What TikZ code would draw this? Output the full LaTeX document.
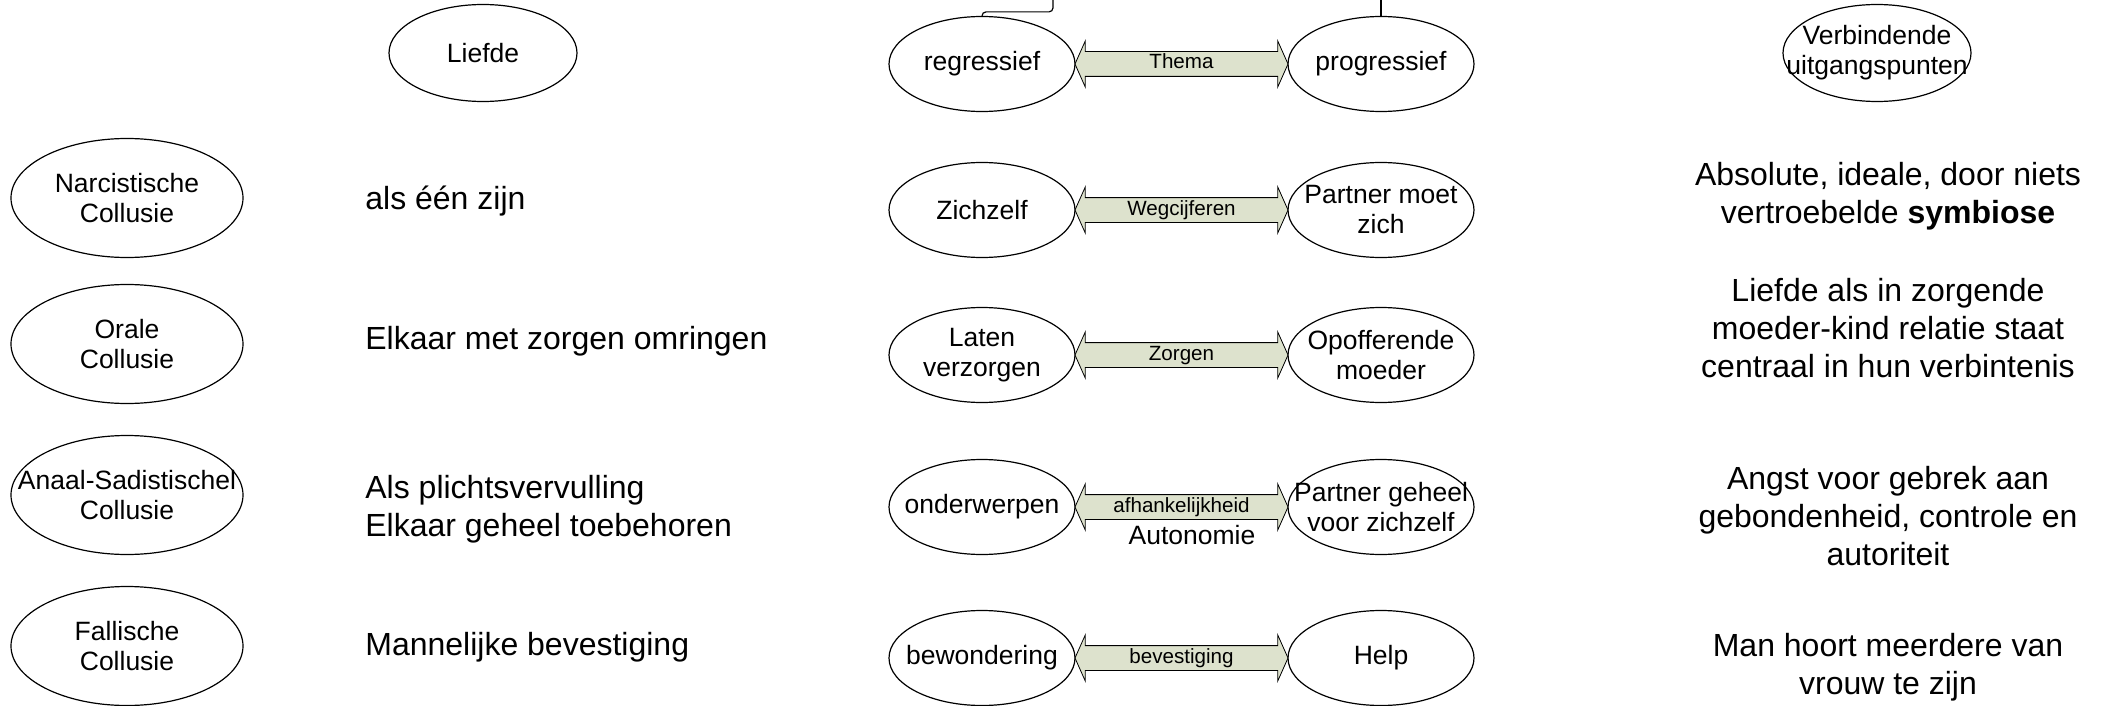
\documentclass[tikz,border=0pt]{standalone}
\usepackage{fontspec}
\setmainfont{Liberation Sans}
\usetikzlibrary{shapes.geometric,shapes.arrows,calc}

\definecolor{pijlgroen}{RGB}{221,226,205}

\tikzset{
  kop/.style={ellipse, draw, line width=0.6pt, inner sep=0pt, minimum width=94pt, minimum height=48.5pt},
  kol/.style={ellipse, draw, line width=0.6pt, inner sep=0pt, minimum width=116pt, minimum height=59.5pt},
  pool/.style={ellipse, draw, line width=0.6pt, inner sep=0pt, minimum width=93pt, minimum height=47.5pt},
  otekst/.style={align=center, inner sep=0pt, font=\fontsize{13.25pt}{15pt}\selectfont},
  tekst/.style={align=center, inner sep=0pt, font=\fontsize{16pt}{19pt}\selectfont},
  ltekst/.style={tekst, align=left, anchor=west},
  pijl/.style={double arrow, draw, line width=0.4pt, fill=pijlgroen,
    minimum height=106.5pt, minimum width=22.5pt, double arrow head extend=5.25pt,
    double arrow tip angle=132, inner xsep=0pt, inner ysep=1pt,
    text height=7.5pt, text depth=2.5pt, font=\fontsize{10.3pt}{12pt}\selectfont}
}

\begin{document}
\begin{tikzpicture}[x=0.5pt,y=-0.5pt]

  \useasboundingbox (0,0) rectangle (2104,706);

  % kopregel
  \node[kop] (liefde) at (483,53) {};
  \node[otekst] (liefde-t) at (liefde) {Liefde};
  \node[pool] (reg) at (982,64) {};
  \node[otekst] (reg-t) at (reg) {regressief};
  \node[pool] (prog) at (1381,64) {};
  \node[otekst] (prog-t) at (prog) {progressief};
  \node[kop] (verb) at (1877,53) {};
  \node[otekst] (verb-t) at (verb) {Verbindende\\uitgangspunten};

  \coordinate (topL) at (1053,0);
  \coordinate (topR) at (1381,0);
  \draw[line width=0.6pt, rounded corners=2pt] (reg.north) -- ++(0,-4) -| (topL);
  \draw[line width=0.6pt] (prog.north) -- (topR);

  \node[pijl] (thema) at ($(reg.east)!0.5!(prog.west)$) {Thema};

  % collusies
  \node[kol] (narc) at (127,198) {};
  \node[otekst] (narc-t) at (narc) {Narcistische\\Collusie};
  \node[kol] (oraal) at (127,344) {};
  \node[otekst] (oraal-t) at (oraal) {Orale\\Collusie};
  \node[kol] (anaal) at (127,495) {};
  \node[otekst] (anaal-t) at (anaal) {Anaal-Sadistischel\\Collusie};
  \node[kol] (fal) at (127,646) {};
  \node[otekst] (fal-t) at (fal) {Fallische\\Collusie};

  \node[ltekst] (liefde1) at (365,201) {als één zijn};
  \node[ltekst] (liefde2) at (365,341) {Elkaar met zorgen omringen};
  \node[ltekst] (liefde3) at (365,509) {Als plichtsvervulling\\Elkaar geheel toebehoren};
  \node[ltekst] (liefde4) at (365,647) {Mannelijke bevestiging};

  % polen
  \node[pool] (zelf) at (982,210) {};
  \node[otekst] (zelf-t) at (zelf) {Zichzelf};
  \node[pool] (moet) at (1381,210) {};
  \node[otekst] (moet-t) at (moet) {Partner moet\\zich};
  \node[pijl] (weg) at ($(zelf.east)!0.5!(moet.west)$) {Wegcijferen};

  \node[pool] (laten) at (982,355) {};
  \node[otekst] (laten-t) at (laten) {Laten\\verzorgen};
  \node[pool] (moeder) at (1381,355) {};
  \node[otekst] (moeder-t) at (moeder) {Opofferende\\moeder};
  \node[pijl] (zorg) at ($(laten.east)!0.5!(moeder.west)$) {Zorgen};

  \node[pool] (onder) at (982,507) {};
  \node[otekst] (onder-t) at (onder) {onderwerpen};
  \node[pool] (geheel) at (1381,507) {};
  \node[otekst] (geheel-t) at (geheel) {Partner geheel\\voor zichzelf};
  \node[pijl] (afh) at ($(onder.east)!0.5!(geheel.west)$) {afhankelijkheid};
  \node[otekst] (auto) at (1192,535) {Autonomie};

  \node[pool] (bew) at (982,658) {};
  \node[otekst] (bew-t) at (bew) {bewondering};
  \node[pool] (help) at (1381,658) {};
  \node[otekst] (help-t) at (help) {Help};
  \node[pijl] (bev) at ($(bew.east)!0.5!(help.west)$) {bevestiging};

  % uitgangspunten
  \node[tekst] (punt1) at (1888,196) {Absolute, ideale, door niets\\vertroebelde \textbf{symbiose}};
  \node[tekst] (punt2) at (1888,328) {Liefde als in zorgende\\moeder-kind relatie staat\\centraal in hun verbintenis};
  \node[tekst] (punt3) at (1888,516) {Angst voor gebrek aan\\gebondenheid, controle en\\autoriteit};
  \node[tekst] (punt4) at (1888,667) {Man hoort meerdere van\\vrouw te zijn};

\end{tikzpicture}
\end{document}
